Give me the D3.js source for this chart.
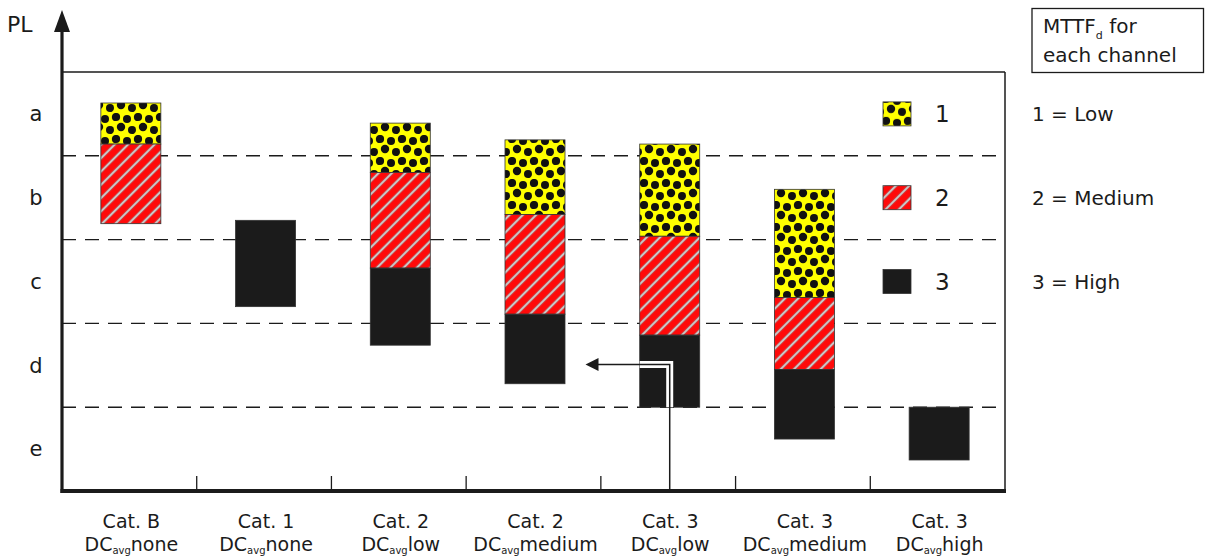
<!DOCTYPE html>
<html>
<head>
<meta charset="utf-8">
<script src="https://cdn.jsdelivr.net/npm/d3@7"></script>
<style>
  html, body { margin: 0; padding: 0; background: #fff; }
  svg { display: block; font-family: "DejaVu Sans", "Liberation Sans", Arial, sans-serif; }
</style>
</head>
<body>
<svg id="chart" width="1205" height="556"></svg>
<script>
// ---- data ----
const categories = ["Cat. B", "Cat. 1", "Cat. 2", "Cat. 2", "Cat. 3", "Cat. 3", "Cat. 3"];
const dcLevels = ["none", "none", "low", "medium", "low", "medium", "high"];
const plLabels = ["e", "d", "c", "b", "a"];          // bottom -> top
const plBounds = [1, 2, 3, 4];                        // dashed boundaries
// PL range [top, bottom] covered for each MTTFd level per category
const mttfLow    = [[4.63, 4.14], null, [4.39, 3.80], [4.19, 3.30], [4.14, 3.04], [3.60, 2.31], null];
const mttfMedium = [[4.14, 3.19], null, [3.80, 2.66], [3.30, 2.11], [3.04, 1.86], [2.31, 1.45], null];
const mttfHigh   = [null, [3.23, 2.20], [2.66, 1.74], [2.11, 1.28], [1.86, 1.00], [1.45, 0.62], [1.00, 0.37]];
const legendKeys = ["1", "2", "3"];
const legendText = ["1 = Low", "2 = Medium", "3 = High"];
const legendPL = [4.5, 3.5, 2.5];
const arrowPL = 1.51;

// ---- layout ----
const svg = d3.select("#chart");
const pL = 62, pR = 1005, pT = 72, pB = 491;
const x = d3.scaleBand().domain(d3.range(categories.length)).range([pL, pR]).padding(0);
const y = d3.scaleLinear().domain([0, 5]).range([pB, pT]);
const barW = 60;
const barX = i => x(i) + x.bandwidth() / 2 - barW / 2 + 1.5;
const ink = "#1b1b1b";

// ---- patterns ----
const defs = svg.append("defs");
const dots = defs.append("pattern").attr("id", "dots").attr("patternUnits", "userSpaceOnUse")
  .attr("width", 22).attr("height", 22).attr("patternTransform", "translate(2,3)");
dots.append("rect").attr("width", 22).attr("height", 22).attr("fill", "#ffff00");
const dotPts = [[4, 4, 4.1], [15, 6, 4.0], [9, 14, 4.2], [20, 17, 4.0], [-2, 17, 4.0], [4, 26, 4.1], [15, 28, 4.0], [26, 4, 4.1]];
dots.selectAll("circle").data(dotPts).join("circle")
  .attr("cx", d => d[0]).attr("cy", d => d[1]).attr("r", d => d[2]).attr("fill", "#111");

const hatch = defs.append("pattern").attr("id", "hatch").attr("patternUnits", "userSpaceOnUse")
  .attr("width", 9.4).attr("height", 9.4).attr("patternTransform", "rotate(45)");
hatch.append("rect").attr("width", 9.4).attr("height", 9.4).attr("fill", "#ff0a0a");
hatch.append("line").attr("x1", 4.7).attr("x2", 4.7).attr("y1", 0).attr("y2", 9.4)
  .attr("stroke", "#8a8a8a").attr("stroke-width", 2.6);
hatch.append("line").attr("x1", 4.7).attr("x2", 4.7).attr("y1", 0).attr("y2", 9.4)
  .attr("stroke", "#ffffff").attr("stroke-width", 1);

const fills = ["url(#dots)", "url(#hatch)", ink];

// ---- grid / frame ----
svg.append("g").selectAll("line").data(plBounds).join("line")
  .attr("x1", pL).attr("x2", pR)
  .attr("y1", d => y(d)).attr("y2", d => y(d))
  .attr("stroke", ink).attr("stroke-width", 1.4).attr("stroke-dasharray", "14,9");

svg.append("line").attr("x1", pL).attr("x2", pR).attr("y1", pT).attr("y2", pT)
  .attr("stroke", ink).attr("stroke-width", 1.5);
svg.append("line").attr("x1", pR).attr("x2", pR).attr("y1", pT).attr("y2", pB)
  .attr("stroke", ink).attr("stroke-width", 1.5);

// column separators
svg.append("g").selectAll("line").data(d3.range(1, categories.length)).join("line")
  .attr("x1", d => x(d)).attr("x2", d => x(d))
  .attr("y1", pB - 15).attr("y2", pB)
  .attr("stroke", ink).attr("stroke-width", 1.3);

// ---- bars ----
const series = [mttfLow, mttfMedium, mttfHigh];
series.forEach((s, k) => {
  svg.append("g").selectAll("rect").data(s.map((r, i) => ({ r, i })).filter(d => d.r))
    .join("rect")
    .attr("x", d => barX(d.i)).attr("width", barW)
    .attr("y", d => y(d.r[0])).attr("height", d => y(d.r[1]) - y(d.r[0]))
    .attr("fill", fills[k]).attr("stroke", "#333").attr("stroke-width", 0.8);
});

// ---- arrow annotation ----
const ax = barX(4) + barW / 2;
const ay = y(arrowPL);
const tipX = barX(3) + barW + 20.5;
svg.append("path")
  .attr("d", `M${ax},${y(mttfHigh[4][1])} L${ax},${ay} L${barX(4)},${ay}`)
  .attr("fill", "none").attr("stroke", "#fff").attr("stroke-width", 7);
svg.append("path")
  .attr("d", `M${ax},${pB} L${ax},${ay} L${tipX + 12},${ay}`)
  .attr("fill", "none").attr("stroke", ink).attr("stroke-width", 1.5);
svg.append("path")
  .attr("d", `M${tipX},${ay} L${tipX + 13},${ay - 6.5} L${tipX + 13},${ay + 6.5} Z`)
  .attr("fill", ink);

// ---- axes ----
svg.append("line").attr("x1", pL).attr("x2", pL).attr("y1", 28).attr("y2", pB + 2)
  .attr("stroke", ink).attr("stroke-width", 3.2);
svg.append("path").attr("d", `M${pL},10 L${pL - 8},32 L${pL + 8},32 Z`).attr("fill", ink);
svg.append("line").attr("x1", pL - 1.5).attr("x2", pR + 1).attr("y1", pB).attr("y2", pB)
  .attr("stroke", ink).attr("stroke-width", 4);

svg.append("text").attr("x", 7).attr("y", 32).attr("font-size", 22).attr("fill", ink).text("PL");
svg.append("g").selectAll("text").data(plLabels).join("text")
  .attr("x", 36).attr("y", (d, i) => y(i + 0.5)).attr("dy", "0.35em")
  .attr("text-anchor", "middle").attr("font-size", 21).attr("fill", ink).text(d => d);

// x labels
const xl = svg.append("g").selectAll("g").data(categories).join("g")
  .attr("transform", (d, i) => `translate(${x(i) + x.bandwidth() / 2 + 2},0)`);
xl.append("text").attr("y", 528).attr("text-anchor", "middle").attr("font-size", 19).attr("fill", ink)
  .text(d => d);
const t2 = xl.append("text").attr("y", 551).attr("text-anchor", "middle").attr("font-size", 19).attr("fill", ink);
t2.append("tspan").text("DC");
t2.append("tspan").attr("dy", 2.5).attr("font-size", 10).text("avg");
t2.append("tspan").attr("dy", -2.5).text((d, i) => dcLevels[i]);

// ---- legend ----
const lg = svg.append("g").selectAll("g").data(legendKeys).join("g")
  .attr("transform", (d, i) => `translate(0,${y(legendPL[i])})`);
lg.append("rect").attr("x", 883).attr("y", -12).attr("width", 28).attr("height", 24)
  .attr("fill", (d, i) => fills[i]).attr("stroke", "#333").attr("stroke-width", 0.8);
lg.append("text").attr("x", 935).attr("y", 0).attr("dy", "0.36em").attr("font-size", 23).attr("fill", ink)
  .text(d => d);
lg.append("text").attr("x", 1032).attr("y", 0).attr("dy", "0.36em").attr("font-size", 20).attr("fill", ink)
  .text((d, i) => legendText[i]);

// MTTFd box
svg.append("rect").attr("x", 1032).attr("y", 8.5).attr("width", 171.5).attr("height", 64)
  .attr("fill", "none").attr("stroke", ink).attr("stroke-width", 1.3);
const mt = svg.append("text").attr("x", 1043).attr("y", 33).attr("font-size", 20).attr("fill", ink);
mt.append("tspan").text("MTTF");
mt.append("tspan").attr("dy", 6).attr("font-size", 11).text("d");
mt.append("tspan").attr("dy", -6).text(" for");
svg.append("text").attr("x", 1043).attr("y", 62).attr("font-size", 20).attr("fill", ink).text("each channel");
</script>
</body>
</html>
